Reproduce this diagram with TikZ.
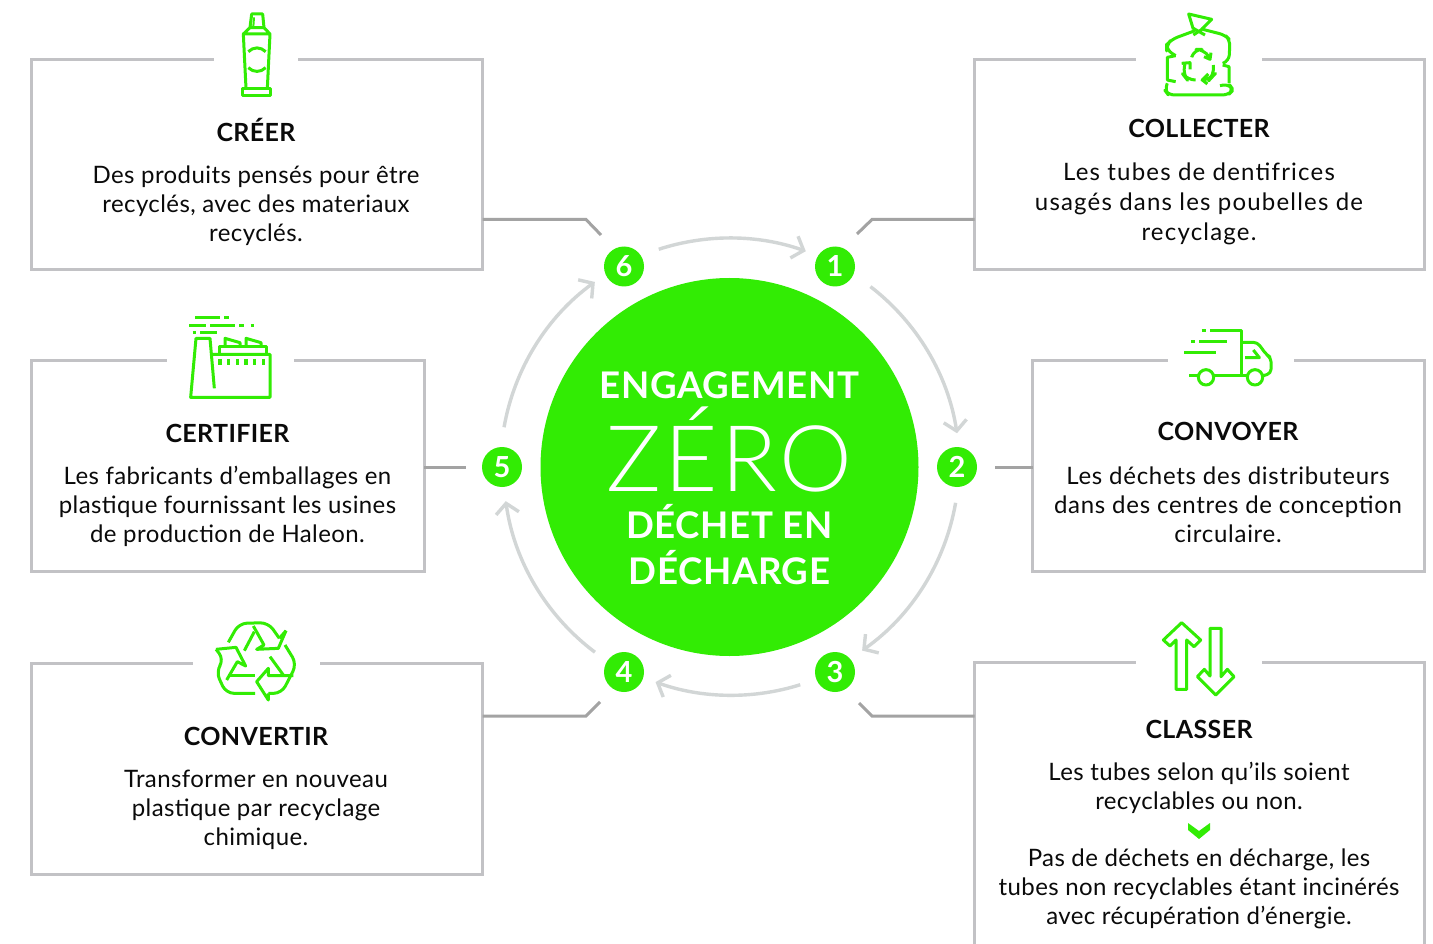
\documentclass[tikz,border=0pt]{standalone}
\usepackage{fontspec}
\setmainfont{Lato}[LetterSpace=1.7]
\newfontfamily\headf{Lato}[LetterSpace=1.5]
\newfontfamily\bodywide{Lato}[LetterSpace=5]
\newfontfamily\bodymid{Lato}[LetterSpace=3]
\newfontfamily\thinf{Lato Light}[LetterSpace=3.5]
\usetikzlibrary{arrows.meta,calc}
\definecolor{gr}{HTML}{32EC04}
\definecolor{boxc}{HTML}{C2C2C5}
\definecolor{linkc}{HTML}{A3A3A3}
\definecolor{arcc}{HTML}{D2D6D6}
\definecolor{ink}{HTML}{0A0A0A}
\tikzset{
 cardbox/.style={draw=boxc,line width=3pt,minimum width=#1,outer sep=0pt,inner sep=0pt},
 gapfill/.style={fill=white,draw=none},
 linkline/.style={draw=linkc,line width=3pt},
 flow/.style={draw=arcc,line width=3.4pt,-{Straight Barb[length=10pt,width=23pt,line width=3.4pt]}},
 numnode/.style={circle,fill=gr,text=white,minimum size=40pt,inner sep=0pt,font=\headf\fontsize{29}{29}\selectfont\bfseries},
 titlenode/.style={text=ink,inner sep=0pt,font=\headf\fontsize{25}{25}\selectfont\bfseries},
 bodynode/.style={text=ink,inner sep=0pt,align=center,font=\fontsize{24}{29}\selectfont},
 hubnode/.style={text=white,inner sep=0pt,font=\headf\fontsize{36.7}{37}\selectfont\bfseries},
 ico/.style={draw=gr,line width=3pt,line join=round,fill=none},
 icoscope/.style={x=0.33333pt,y=-0.33333pt},
}
\begin{document}
\begin{tikzpicture}[x=1pt,y=-1pt]
\useasboundingbox (0,0) rectangle (1433,944);
\clip (0,0) rectangle (1433,944);
\fill[white] (0,0) rectangle (1433,944);
% cards
\node[cardbox=451pt,minimum height=210pt] (b6) at (257,165) {};
\node[cardbox=450pt,minimum height=210pt] (b1) at (1199.5,165) {};
\node[cardbox=393pt,minimum height=211pt] (b5) at (227.5,465.5) {};
\node[cardbox=392pt,minimum height=211pt] (b2) at (1228.5,465.5) {};
\node[cardbox=451pt,minimum height=211pt] (b4) at (257,768.5) {};
\node[cardbox=450pt,minimum height=340pt] (b3) at (1199.5,832.5) {};
\fill[gapfill] (214,50) rectangle (298,68);
\fill[gapfill] (1136,50) rectangle (1262,68);
\fill[gapfill] (167,350) rectangle (294,368);
\fill[gapfill] (1168,350) rectangle (1294,368);
\fill[gapfill] (193,653) rectangle (320,671);
\fill[gapfill] (1136,653) rectangle (1262,671);
% hub
\node[circle,fill=gr,minimum size=378pt,inner sep=0pt] (hub) at (729.5,467) {};
\node[hubnode] (t1) at (729.5,385) {ENGAGEMENT};
\node[text=white,inner sep=0pt,font=\thinf\fontsize{92}{92}\selectfont,anchor=base] (t2) at (729.5,491) {ZÉRO};
\node[hubnode] (t3) at (729.5,521.5) {DÉCHET EN};
\node[hubnode] (t4) at (729.5,567.5) {DÉCHARGE};
% numbers
\node[numnode] (n6) at (624,266.5) {6};
\node[numnode] (n1) at (835,266.5) {1};
\node[numnode] (n5) at (502,467) {5};
\node[numnode] (n2) at (957,467) {2};
\node[numnode] (n4) at (624,672) {4};
\node[numnode] (n3) at (835,672) {3};
% flow arcs, all on one circle round the hub
\draw[flow] ($(hub.center)!1.21!(hub.108)$) arc[start angle=-108,end angle=-70.5,radius=228.7];
\draw[flow] ($(hub.center)!1.21!(hub.52.4)$) arc[start angle=-52.4,end angle=-8.7,radius=228.7];
\draw[flow] ($(hub.center)!1.21!(hub.-9.85)$) arc[start angle=9.85,end angle=54.8,radius=228.7];
\draw[flow] ($(hub.center)!1.21!(hub.-72.6)$) arc[start angle=72.6,end angle=109.5,radius=228.7];
\draw[flow] ($(hub.center)!1.21!(hub.-126.9)$) arc[start angle=126.9,end angle=172,radius=228.7];
\draw[flow] ($(hub.center)!1.21!(hub.170)$) arc[start angle=-170,end angle=-126,radius=228.7];
% links
\coordinate (k6) at (586,219.5); \coordinate (e6) at (601,235);
\coordinate (k1) at (872,219.5); \coordinate (e1) at (857,234);
\coordinate (k4) at (586,716); \coordinate (e4) at (600,702);
\coordinate (k3) at (872,716); \coordinate (e3) at (859,703);
\coordinate (e5) at (466,467); \coordinate (e2) at (995,467);
\draw[linkline] (b6.east |- k6) -- (k6) -- (e6);
\draw[linkline] (b1.west |- k1) -- (k1) -- (e1);
\draw[linkline] (b4.east |- k4) -- (k4) -- (e4);
\draw[linkline] (b3.west |- k3) -- (k3) -- (e3);
\draw[linkline] (b5.east |- e5) -- (e5);
\draw[linkline] (b2.west |- e2) -- (e2);
% titles and texts
\node[titlenode] (h6) at (256,129.5) {CRÉER};
\node[bodynode] (p6) at (256,205.5) {Des produits pensés pour être\\recyclés, avec des materiaux\\recyclés.};
\node[titlenode] (h1) at (1199,128) {COLLECTER};
\node[bodynode,font=\bodywide\fontsize{24}{30}\selectfont] (p1) at (1199,203.5) {Les tubes de dentifrices\\usagés dans les poubelles de\\recyclage.};
\node[titlenode] (h5) at (227.5,433) {CERTIFIER};
\node[bodynode] (p5) at (227.5,506) {Les fabricants d’emballages en\\plastique fournissant les usines\\de production de Haleon.};
\node[titlenode] (h2) at (1228,431) {CONVOYER};
\node[bodynode,font=\bodymid\fontsize{24}{29}\selectfont] (p2) at (1228,504.5) {Les déchets des distributeurs\\dans des centres de conception\\circulaire.};
\node[titlenode] (h4) at (256,736) {CONVERTIR};
\node[bodynode] (p4) at (256,809.5) {Transformer en nouveau\\plastique par recyclage\\chimique.};
\node[titlenode] (h3) at (1199,729) {CLASSER};
\node[bodynode] (p3a) at (1199,787.5) {Les tubes selon qu’ils soient\\recyclables ou non.};
\node[bodynode] (p3b) at (1199,888.5) {Pas de déchets en décharge, les\\tubes non recyclables étant incinérés\\avec récupération d’énergie.};
\fill[gr] (1188,823) -- (1199,831) -- (1210,823) -- (1210,830) -- (1199,839) -- (1188,830) -- cycle;
% icons
\begin{scope}[shift={(180,0)},icoscope]
\draw[ico] (210,83) -- (215,42) -- (248,42) -- (252,83);
\draw[ico,line width=2pt] (222,52) -- (220,80);
\draw[ico] (210,83) -- (190,102) -- (198,265) (252,83) -- (270,102) -- (262,265) (190,102) -- (270,102) (210,83) -- (252,83);
\draw[ico] (188,265) rectangle (272,287);
\draw[ico] (205,155) .. controls (220,140) and (242,140) .. (257,155);
\draw[ico] (205,203) .. controls (220,218) and (242,218) .. (257,203);
\end{scope}
\begin{scope}[shift={(1130,0)},icoscope]
\draw[ico] (190,88) -- (176,42) -- (245,58) -- (215,88);
\draw[ico] (190,85) -- (225,105) (220,85) -- (190,105);
\draw[ico,rounded corners=6pt] (195,92) -- (125,118) -- (110,135) -- (110,150) -- (137,167);
\draw[ico] (137,167) -- (112,172) -- (112,240) -- (137,245);
\draw[ico,rounded corners=6pt] (112,250) -- (104,270) -- (115,285) -- (295,285) -- (310,270) -- (297,252) -- (270,257);
\draw[ico] (297,250) -- (297,200) -- (278,195);
\draw[ico,rounded corners=6pt] (278,190) -- (297,183) -- (300,120) -- (285,105) -- (218,88);
\draw[ico,rounded corners=8pt] (185,172) -- (192,148) -- (222,148) -- (238,172);
\draw[ico] (222,170) -- (240,178) -- (243,158);
\draw[ico,rounded corners=8pt] (165,192) -- (158,222) -- (172,240) -- (197,240);
\draw[ico] (155,190) -- (180,188) -- (180,208);
\draw[ico,rounded corners=8pt] (250,195) -- (252,225) -- (240,238) -- (220,240);
\draw[ico] (235,222) -- (217,240) -- (232,252);
\end{scope}
\begin{scope}[shift={(170,305)},icoscope]
\draw[ico] (75,38) -- (150,38) (162,38) -- (178,38) (58,60) -- (108,60) (120,60) -- (195,60) (207,60) -- (222,60) (242,60) -- (252,60) (68,82) -- (78,82) (90,82) -- (142,82);
\draw[ico] (133,250) -- (120,100) -- (78,100) -- (62,277) -- (300,277) -- (300,148) -- (125,148);
\draw[ico] (148,148) -- (148,125) -- (288,125) -- (288,148);
\draw[ico] (165,125) -- (165,100) -- (210,113) -- (210,125);
\draw[ico] (228,125) -- (228,100) -- (273,113) -- (273,125);
\draw[ico,line width=3.6pt] (150,162) -- (150,180) (176,162) -- (176,180) (203,162) -- (203,180) (228,162) -- (228,180) (254,162) -- (254,180) (280,162) -- (280,180);
\end{scope}
\begin{scope}[shift={(1170,315)},icoscope]
\draw[ico] (120,45) -- (215,45) -- (215,182) (95,47) -- (107,47) (63,80) -- (75,80) (87,80) -- (170,80) (42,113) -- (137,113) (57,182) -- (85,182) (130,182) -- (232,182);
\draw[ico] (108,187) circle[radius=23];
\draw[ico] (255,187) circle[radius=23];
\draw[ico,rounded corners=4pt] (215,82) -- (262,82) -- (290,120) -- (303,128) -- (303,175) -- (280,182);
\draw[ico] (225,128) -- (268,128) -- (250,105);
\end{scope}
\begin{scope}[shift={(200,610)},icoscope]
\draw[ico,rounded corners=8pt] (85,97) -- (117,40) -- (205,38) -- (238,85);
\draw[ico] (258,62) -- (235,115) -- (170,118) -- (192,105) -- (160,48);
\draw[ico] (238,85) -- (258,62);
\draw[ico] (163,65) -- (133,122);
\draw[ico] (48,118) -- (108,112) -- (137,168) -- (112,155) -- (80,210);
\draw[ico,rounded corners=8pt] (48,118) -- (72,148) -- (48,185) -- (78,250) -- (165,250);
\draw[ico] (85,195) -- (165,195);
\draw[ico,rounded corners=8pt] (255,105) -- (290,162) -- (245,250) -- (205,250);
\draw[ico] (205,250) -- (205,270) -- (170,215) -- (205,175) -- (205,197) -- (280,197);
\draw[ico] (210,140) -- (250,195);
\end{scope}
\begin{scope}[shift={(1150,610)},icoscope]
\draw[ico] (95,38) -- (152,90) -- (132,110) -- (110,90) -- (110,238) -- (78,238) -- (78,90) -- (60,108) -- (40,90) -- cycle;
\draw[ico] (180,55) -- (213,55) -- (213,200) -- (232,178) -- (252,200) -- (197,255) -- (142,200) -- (163,178) -- (180,198) -- cycle;
\end{scope}
\end{tikzpicture}
\end{document}
